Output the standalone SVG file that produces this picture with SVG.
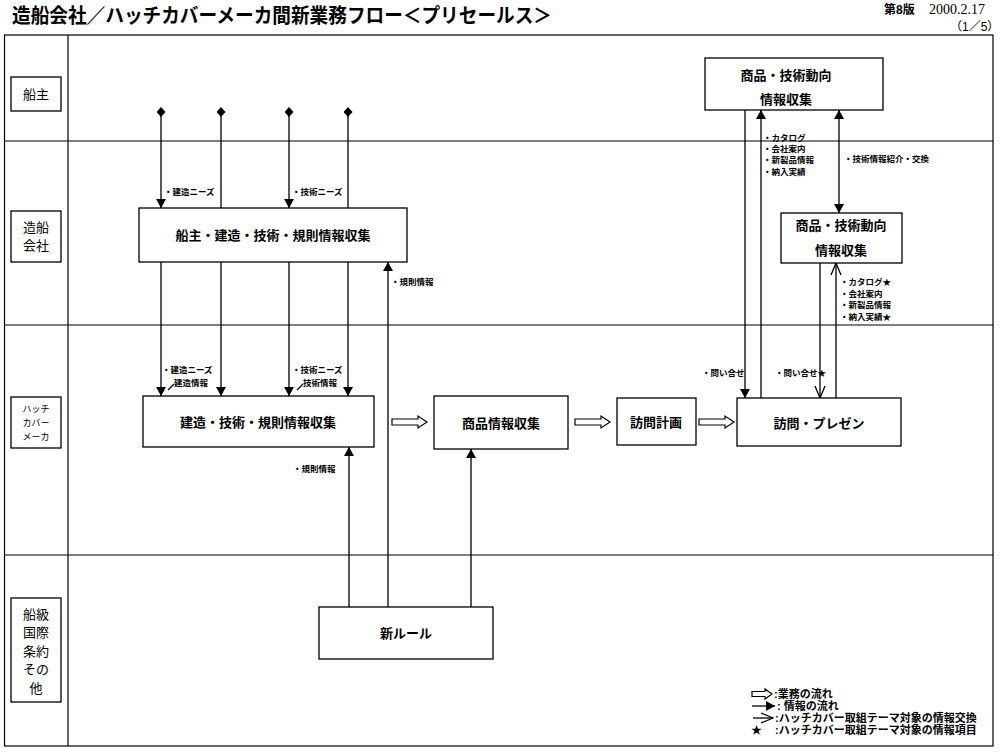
<svg xmlns="http://www.w3.org/2000/svg" width="1000" height="752" viewBox="0 0 1000 752">
<style>
.t{font-family:"Liberation Sans","Noto Sans CJK JP",sans-serif;fill:#000}
.b{font-weight:bold}
.box{fill:#fff;stroke:#000;stroke-width:1.3}
.ln{fill:none;stroke:#000;stroke-width:1.2}
.c{stroke:#000;stroke-width:1.3;fill:none}
.blk{fill:#fff;stroke:#000;stroke-width:1.2}
.bx{font-size:13px;font-weight:bold;text-anchor:middle}
.sm{font-size:8.5px;font-weight:bold}
.lane{font-size:13px;text-anchor:middle}
.lg{font-size:11px;font-weight:bold}
</style>
<defs>
<marker id="ah" viewBox="0 0 9 10" refX="9" refY="5" markerWidth="9" markerHeight="10" markerUnits="userSpaceOnUse" orient="auto-start-reverse"><path d="M0,0 L9,5 L0,10 Z" fill="#000"/></marker>
<marker id="ov" viewBox="-1 -1 14 12" refX="12" refY="5" markerWidth="14" markerHeight="12" markerUnits="userSpaceOnUse" orient="auto-start-reverse"><path d="M0,0 L12,5 L0,10" fill="none" stroke="#000" stroke-width="1.3"/></marker>
<marker id="dm" viewBox="0 0 9 10" refX="4.5" refY="5" markerWidth="9" markerHeight="10" markerUnits="userSpaceOnUse"><path d="M4.5,0 L9,5 L4.5,10 L0,5 Z" fill="#000"/></marker>
<path id="blk" d="M0,-3 H26 V-6 L35,0 L26,6 V3 H0 Z"/>
</defs>
<rect width="1000" height="752" fill="#fff"/>

<g id="header">
<text class="t b" x="12" y="23" font-size="20" textLength="540" lengthAdjust="spacingAndGlyphs">造船会社／ハッチカバーメーカ間新業務フロー＜プリセールス＞</text>
<text class="t b" x="884" y="14" font-size="12">第8版</text>
<text x="929" y="14" font-size="14" font-family="Liberation Serif,serif">2000.2.17</text>
<text class="t" x="950" y="31" font-size="12">（1／5）</text>
</g>

<g id="frame">
<rect x="4.5" y="35" width="988.5" height="711" class="ln"/>
<line x1="68" y1="35" x2="68" y2="746" class="ln"/>
<line x1="4.5" y1="141" x2="993" y2="141" class="ln"/>
<line x1="4.5" y1="325" x2="993" y2="325" class="ln"/>
<line x1="4.5" y1="555" x2="993" y2="555" class="ln"/>
</g>

<g id="lane-shipowner">
<rect x="11" y="77" width="50" height="34" class="box"/>
<text class="t lane" x="36" y="99" font-size="12">船主</text>
</g>
<g id="lane-shipyard">
<rect x="11" y="211" width="50" height="51" class="box"/>
<text class="t lane" x="36" y="232">造船</text>
<text class="t lane" x="36" y="250">会社</text>
</g>
<g id="lane-maker">
<rect x="11" y="397" width="50" height="51" class="box"/>
<text class="t" x="36" y="412" font-size="9" text-anchor="middle">ハッチ</text>
<text class="t" x="36" y="426" font-size="9" text-anchor="middle">カバー</text>
<text class="t" x="36" y="440" font-size="9" text-anchor="middle">メーカ</text>
</g>
<g id="lane-class">
<rect x="11" y="598" width="50" height="104" class="box"/>
<text class="t lane" x="36" y="619">船級</text>
<text class="t lane" x="36" y="637">国際</text>
<text class="t lane" x="36" y="656">条約</text>
<text class="t lane" x="36" y="674">その</text>
<text class="t lane" x="36" y="693">他</text>
</g>

<g id="connectors">
<path class="c" d="M161,112 V208" marker-start="url(#dm)" marker-end="url(#ah)"/>
<path class="c" d="M221,112 V208" marker-start="url(#dm)"/>
<path class="c" d="M289,112 V208" marker-start="url(#dm)" marker-end="url(#ah)"/>
<path class="c" d="M348,112 V208" marker-start="url(#dm)"/>
<path class="c" d="M161,262 V396" marker-end="url(#ah)"/>
<path class="c" d="M221,262 V396" marker-end="url(#ah)"/>
<path class="c" d="M289,262 V396" marker-end="url(#ah)"/>
<path class="c" d="M348,262 V396" marker-end="url(#ah)"/>
<path class="c" d="M388,607 V262" marker-end="url(#ah)"/>
<path class="c" d="M349,607 V447" marker-end="url(#ah)"/>
<path class="c" d="M471,607 V449" marker-end="url(#ah)"/>
<path class="c" d="M745,110 V398" marker-end="url(#ah)"/>
<path class="c" d="M761,398 V110" marker-end="url(#ah)"/>
<path class="c" d="M839,110 V213" marker-start="url(#ah)" marker-end="url(#ah)"/>
<path class="c" d="M820,263 V398" marker-end="url(#ov)"/>
<path class="c" d="M836,398 V263" marker-end="url(#ov)"/>
<use href="#blk" class="blk" x="392" y="422"/>
<use href="#blk" class="blk" x="575" y="422"/>
<use href="#blk" class="blk" x="699" y="422"/>
<line x1="168" y1="390" x2="174" y2="384" class="c" stroke-width="1"/>
<line x1="297" y1="390" x2="303" y2="384" class="c" stroke-width="1"/>
</g>

<g id="labels">
<text class="t sm" x="164" y="195">・建造ニーズ</text>
<text class="t sm" x="292" y="195">・技術ニーズ</text>
<text class="t sm" x="162" y="373">・建造ニーズ</text>
<text class="t sm" x="174" y="386">建造情報</text>
<text class="t sm" x="292" y="373">・技術ニーズ</text>
<text class="t sm" x="303" y="386">技術情報</text>
<text class="t sm" x="391" y="285">・規則情報</text>
<text class="t sm" x="293" y="472">・規則情報</text>
<text class="t sm" x="702" y="376">・問い合せ</text>
<text class="t sm" x="775" y="376">・問い合せ★</text>
<text class="t sm" x="763" y="141">・カタログ</text>
<text class="t sm" x="763" y="152">・会社案内</text>
<text class="t sm" x="763" y="163">・新製品情報</text>
<text class="t sm" x="763" y="175">・納入実績</text>
<text class="t sm" x="844" y="162">・技術情報紹介・交換</text>
<text class="t sm" x="840" y="285">・カタログ★</text>
<text class="t sm" x="840" y="297">・会社案内</text>
<text class="t sm" x="840" y="308">・新製品情報</text>
<text class="t sm" x="840" y="320">・納入実績★</text>
</g>

<g id="n-shipowner-info">
<rect x="139" y="208" width="268" height="54" class="box"/>
<text class="t bx" x="273" y="240">船主・建造・技術・規則情報収集</text>
</g>
<g id="n-maker-info">
<rect x="143" y="396" width="231" height="51" class="box"/>
<text class="t bx" x="258" y="427">建造・技術・規則情報収集</text>
</g>
<g id="n-product-info">
<rect x="434" y="396" width="134" height="53" class="box"/>
<text class="t bx" x="501" y="428">商品情報収集</text>
</g>
<g id="n-visit-plan">
<rect x="617" y="398" width="79" height="47" class="box"/>
<text class="t bx" x="656" y="427">訪問計画</text>
</g>
<g id="n-visit-present">
<rect x="737" y="398" width="164" height="48" class="box"/>
<text class="t bx" x="819" y="428">訪問・プレゼン</text>
</g>
<g id="n-new-rule">
<rect x="319" y="607" width="174" height="52" class="box"/>
<text class="t bx" x="406" y="638">新ルール</text>
</g>
<g id="n-trend-top">
<rect x="705" y="58" width="178" height="52" class="box"/>
<text class="t bx" x="786" y="80">商品・技術動向</text>
<text class="t bx" x="786" y="104">情報収集</text>
</g>
<g id="n-trend-yard">
<rect x="781" y="213" width="121" height="50" class="box"/>
<text class="t bx" x="841" y="230">商品・技術動向</text>
<text class="t bx" x="841" y="255">情報収集</text>
</g>

<g id="legend">
<path d="M752,691.5 H765 V689 L772,694 L765,699 V696.5 H752 Z" class="blk"/>
<text class="t lg" x="774" y="698">:業務の流れ</text>
<line x1="752" y1="706" x2="775" y2="706" class="c" marker-end="url(#ah)"/>
<text class="t lg" x="777" y="710">: 情報の流れ</text>
<line x1="753" y1="718" x2="773" y2="718" class="c" marker-end="url(#ov)"/>
<text class="t lg" x="775" y="722">:ハッチカバー取組テーマ対象の情報交換</text>
<text class="t lg" x="751" y="734">★</text>
<text class="t lg" x="775" y="734">:ハッチカバー取組テーマ対象の情報項目</text>
</g>
</svg>
